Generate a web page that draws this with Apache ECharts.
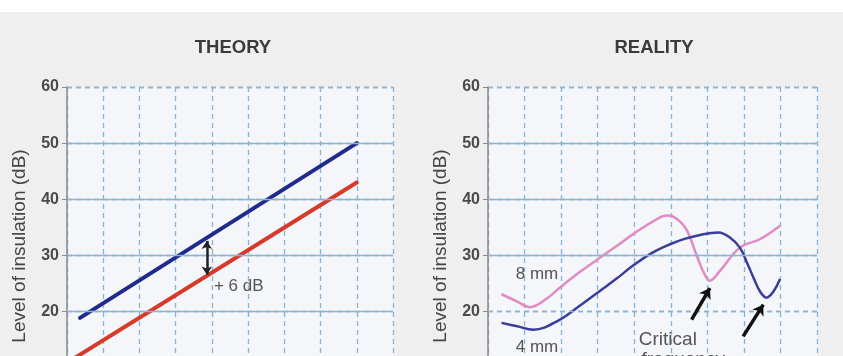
<!DOCTYPE html>
<html>
<head>
<meta charset="utf-8">
<script src="https://cdn.jsdelivr.net/npm/echarts@6/dist/echarts.min.js"></script>
<style>
html,body{margin:0;padding:0;background:#efefef;}
#c{width:843px;height:356px;}
</style>
</head>
<body>
<div id="c"></div>
<script>
// ---- data ----
const panelTitles = ['THEORY', 'REALITY'];
const yTicks = [0, 10, 20, 30, 40, 50, 60];
const yAxisTitle = 'Level of insulation (dB)';

// THEORY panel (x in grid-column units, y in dB)
const theoryBlueX = [0.36, 8.0];
const theoryBlueY = [18.9, 50.0];
const theoryRedX = [0.2, 8.0];
const theoryRedY = [11.7, 43.0];
const gapArrowX = 3.86;
const gapArrowY = [32.6, 26.6];
const gapLabel = '+ 6 dB';
const gapLabelPos = [4.74, 24.5];

// REALITY panel
const glass8X = [0.37, 0.8, 1.15, 1.6, 1.97, 2.5, 3.06, 3.5, 3.97, 4.6, 4.9, 5.15, 5.43, 5.71, 5.9, 6.07, 6.35, 6.89, 7.44, 7.99];
const glass8Y = [23.1, 21.8, 20.8, 22.3, 24.3, 27.0, 29.6, 31.6, 33.8, 36.4, 37.1, 36.6, 34.6, 30.0, 27.0, 25.5, 27.3, 31.4, 32.9, 35.3];
const glass4X = [0.37, 0.8, 1.24, 1.97, 2.5, 3.06, 3.5, 3.97, 4.5, 4.98, 5.4, 5.89, 6.3, 6.6, 6.89, 7.1, 7.26, 7.45, 7.62, 7.8, 7.99];
const glass4Y = [18.0, 17.4, 16.8, 18.6, 21.0, 23.7, 25.8, 28.2, 30.5, 32.0, 33.0, 33.8, 34.1, 33.3, 31.4, 28.5, 26.1, 23.5, 22.5, 23.5, 25.8];
const labels8 = ['8 mm', [1.34, 26.6]];
const labels4 = ['4 mm', [1.34, 13.6]];
const critLabel1 = ['Critical', [4.92, 15.0]];
const critLabel2 = ['frequency', [5.34, 11.4]];
const critArrow1 = [[5.57, 18.6], [6.07, 24.2]];
const critArrow2 = [[6.98, 15.6], [7.53, 21.25]];

// ---- helpers ----
const zip = (xs, ys) => xs.map((x, i) => [x, ys[i]]);
const gridCol = '#86b4d9';
const axisCol = '#8a8a8a';
const font = 'Liberation Sans, Arial, sans-serif';

function hLines(solidVals, dashedVals) {
  return [
    ...solidVals.map(v => ({ yAxis: v, lineStyle: { type: 'solid', color: '#8bb3d2', width: 1.3 } })),
    ...dashedVals.map(v => ({ yAxis: v, lineStyle: { type: [5, 4], color: gridCol, width: 1.3 } }))
  ];
}
function textPoint(name, coord, size, color) {
  return { name: name, coord: coord, symbol: 'circle', symbolSize: 0,
    label: { show: true, position: 'inside', formatter: name, fontSize: size, color: color, fontFamily: font } };
}

const grids = [
  { left: 67, top: 87, width: 326, height: 337, show: true, backgroundColor: '#f4f6f9', borderWidth: 0,
    containLabel: false, outerBoundsMode: 'none' },
  { left: 488, top: 87, width: 329, height: 337, show: true, backgroundColor: '#f4f6f9', borderWidth: 0,
    containLabel: false, outerBoundsMode: 'none' }
];
const xAxes = [0, 1].map(i => ({
  type: 'value', gridIndex: i, min: 0, max: 9, interval: 1,
  axisLine: { show: false }, axisTick: { show: false }, axisLabel: { show: false },
  splitLine: { show: true, lineStyle: { type: [5, 4], color: gridCol, width: 1.3 } }
}));
const yAxes = [0, 1].map(i => ({
  type: 'value', gridIndex: i, min: yTicks[0], max: yTicks[yTicks.length - 1], interval: 10,
  axisLine: { show: true, lineStyle: { color: axisCol, width: 1.5 } },
  axisTick: { show: true, length: 5, lineStyle: { color: axisCol } },
  axisLabel: { fontSize: 16, fontWeight: 'bold', color: '#4a4a4a', fontFamily: font, margin: 8 },
  splitLine: { show: true, lineStyle: { type: [5, 4], color: gridCol, width: 1.3 } }
}));

const series = [
  // horizontal grid emphasis
  { type: 'line', xAxisIndex: 0, yAxisIndex: 0, data: [], z: 1, silent: true,
    markLine: { silent: true, symbol: 'none', animation: false, label: { show: false },
      data: hLines([20, 30, 40, 50], [60]) } },
  { type: 'line', xAxisIndex: 1, yAxisIndex: 1, data: [], z: 1, silent: true,
    markLine: { silent: true, symbol: 'none', animation: false, label: { show: false },
      data: hLines([30, 40, 50], [20, 60]) } },
  // THEORY lines
  { type: 'line', xAxisIndex: 0, yAxisIndex: 0, data: zip(theoryBlueX, theoryBlueY), z: 3,
    showSymbol: false, lineStyle: { color: '#1f2a8c', width: 4, cap: 'round' } },
  { type: 'line', xAxisIndex: 0, yAxisIndex: 0, data: zip(theoryRedX, theoryRedY), z: 3,
    showSymbol: false, lineStyle: { color: '#d63a2a', width: 4, cap: 'round' } },
  // THEORY annotations
  { type: 'line', xAxisIndex: 0, yAxisIndex: 0, data: [], z: 10, silent: true,
    markLine: { silent: true, symbol: ['arrow', 'arrow'], symbolSize: 8, animation: false, label: { show: false },
      lineStyle: { type: 'solid', color: '#222', width: 2.5 },
      data: [[{ coord: [gapArrowX, gapArrowY[0]] }, { coord: [gapArrowX, gapArrowY[1]] }]] },
    markPoint: { silent: true, animation: false, data: [textPoint(gapLabel, gapLabelPos, 17, '#555')] } },
  // REALITY lines
  { type: 'line', xAxisIndex: 1, yAxisIndex: 1, data: zip(glass8X, glass8Y), z: 3, smooth: 0.4,
    showSymbol: false, lineStyle: { color: '#e08cc2', width: 2.5 } },
  { type: 'line', xAxisIndex: 1, yAxisIndex: 1, data: zip(glass4X, glass4Y), z: 4, smooth: 0.4,
    showSymbol: false, lineStyle: { color: '#3a3d9a', width: 2.5 } },
  // REALITY annotations
  { type: 'line', xAxisIndex: 1, yAxisIndex: 1, data: [], z: 10, silent: true,
    markLine: { silent: true, symbol: ['none', 'arrow'], symbolSize: 10, animation: false, label: { show: false },
      lineStyle: { type: 'solid', color: '#111', width: 3.5 },
      data: [
        [{ coord: critArrow1[0] }, { coord: critArrow1[1] }],
        [{ coord: critArrow2[0] }, { coord: critArrow2[1] }]
      ] },
    markPoint: { silent: true, animation: false, data: [
      textPoint(labels8[0], labels8[1], 17, '#555'),
      textPoint(labels4[0], labels4[1], 17, '#555'),
      textPoint(critLabel1[0], critLabel1[1], 19, '#555'),
      textPoint(critLabel2[0], critLabel2[1], 19, '#555')
    ] } }
];

const chart = echarts.init(document.getElementById('c'), null, { renderer: 'canvas' });
chart.setOption({
  animation: false,
  backgroundColor: '#efefef',
  title: [
    { text: panelTitles[0], left: 228, top: 33, textAlign: 'center',
      textStyle: { fontSize: 18.5, fontWeight: 'bold', color: '#3a3a3a', fontFamily: font } },
    { text: panelTitles[1], left: 649, top: 33, textAlign: 'center',
      textStyle: { fontSize: 18.5, fontWeight: 'bold', color: '#3a3a3a', fontFamily: font } }
  ],
  graphic: [
    { type: 'rect', left: 0, top: 0, shape: { width: 843, height: 12 }, style: { fill: '#ffffff' }, silent: true },
    { type: 'text', x: 20, y: 246, rotation: Math.PI / 2, silent: true,
      style: { text: yAxisTitle, fontSize: 19, fontFamily: font, fill: '#444', align: 'center', verticalAlign: 'middle' } },
    { type: 'text', x: 441, y: 246, rotation: Math.PI / 2, silent: true,
      style: { text: yAxisTitle, fontSize: 19, fontFamily: font, fill: '#444', align: 'center', verticalAlign: 'middle' } }
  ],
  grid: grids,
  xAxis: xAxes,
  yAxis: yAxes,
  series: series
});
</script>
</body>
</html>
